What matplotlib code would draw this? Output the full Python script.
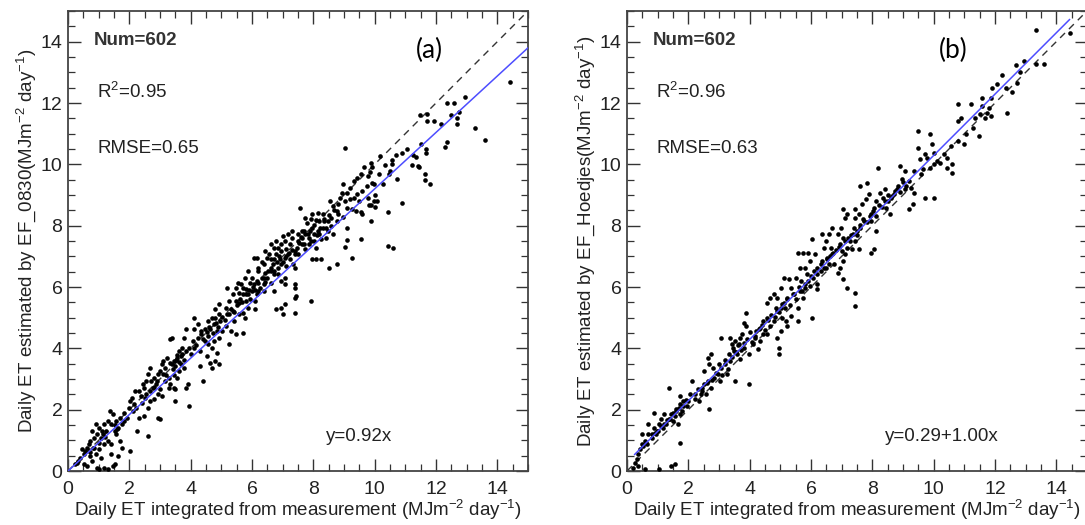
import matplotlib
matplotlib.use("Agg")
import matplotlib.pyplot as plt
from matplotlib.ticker import MultipleLocator
import numpy as np

plt.rcParams["font.family"] = ["Liberation Sans", "DejaVu Sans"]
plt.rcParams["mathtext.fontset"] = "custom"
plt.rcParams["mathtext.rm"] = "Liberation Sans"
plt.rcParams["mathtext.it"] = "Liberation Sans:italic"
plt.rcParams["mathtext.default"] = "regular"

points_a = [
    (14.4, 12.7), (13.28, 11.2), (13.6, 10.8), (12.96, 12.2), (12.6, 12.0), (12.35, 12.0),
    (12.5, 11.6), (12.7, 11.5), (12.7, 11.3), (12.75, 11.7), (12.37, 10.74), (12.3, 10.58),
    (12.15, 11.33), (11.93, 11.4), (11.7, 11.65), (11.47, 11.6), (11.7, 11.4), (11.8, 9.35),
    (11.64, 9.5), (11.64, 9.67), (11.66, 10.38), (11.66, 10.5), (11.5, 10.65), (11.4, 9.95),
    (11.45, 9.9), (11.36, 10.24), (11.24, 10.3), (11.22, 9.97), (11.07, 10.5), (10.9, 10.38),
    (10.9, 8.75), (10.73, 9.53), (10.68, 10.3), (10.56, 10.13), (10.56, 10.0), (10.5, 9.78),
    (10.34, 9.97), (10.28, 9.37), (10.13, 9.67), (10.47, 9.67), (10.45, 8.45), (10.45, 7.34),
    (10.6, 7.26), (10.17, 10.27), (9.89, 10.05), (9.91, 9.9), (9.86, 9.76), (9.77, 9.62),
    (10.0, 9.0), (10.09, 8.8), (9.98, 8.8), (9.89, 8.67), (9.89, 8.15), (10.0, 8.6),
    (9.77, 8.9), (9.8, 8.67), (9.98, 9.35), (9.91, 9.4), (9.66, 9.9), (9.55, 9.67),
    (9.76, 9.3), (9.6, 9.13), (9.02, 10.54), (9.44, 9.57), (9.32, 9.46), (9.2, 9.24),
    (9.1, 9.08), (9.32, 8.9), (9.5, 8.8), (9.26, 8.53), (9.38, 8.48), (9.55, 8.45),
    (9.6, 8.37), (8.98, 9.37), (8.93, 9.08), (8.87, 8.9), (9.1, 8.58), (8.98, 8.28),
    (9.1, 7.93), (9.1, 7.52), (9.04, 7.3), (9.55, 7.55), (9.26, 6.96), (8.76, 6.74),
    (8.53, 8.8), (8.64, 8.64), (8.76, 8.48), (8.59, 8.26), (8.47, 8.15), (8.42, 7.93),
    (8.3, 8.37), (8.36, 8.15), (8.5, 6.63), (7.97, 6.9), (8.08, 6.9), (8.25, 6.92),
    (8.19, 7.72), (8.25, 7.55), (8.02, 7.72), (8.02, 7.5), (7.85, 7.39), (8.08, 7.28),
    (7.97, 7.93), (7.8, 8.1), (8.08, 8.17), (8.14, 8.42), (7.57, 8.59), (7.68, 7.83),
    (7.74, 7.72), (7.63, 7.61), (7.51, 7.5), (7.46, 7.28), (7.4, 7.17), (7.49, 7.07),
    (7.91, 5.54), (7.4, 7.07), (7.34, 6.74), (7.4, 6.63), (7.4, 6.09), (7.4, 5.98),
    (7.43, 5.7), (7.4, 5.65), (7.4, 5.16), (7.06, 5.43), (6.95, 5.33), (6.78, 5.27),
    (7.0, 5.11), (7.06, 6.09), (7.06, 6.3), (6.95, 6.2), (7.17, 7.72), (7.06, 7.5),
    (6.95, 7.39), (6.84, 7.28), (6.78, 7.07), (6.72, 6.9), (6.67, 6.74), (6.61, 6.52),
    (6.84, 6.63), (6.95, 6.74), (7.06, 6.96), (7.17, 7.07), (6.89, 7.01), (7.12, 7.23),
    (6.55, 7.07), (6.5, 6.96), (6.39, 6.74), (6.5, 6.3), (6.61, 6.14), (6.72, 5.87),
    (6.39, 6.3), (6.21, 6.52), (6.16, 6.96), (6.05, 6.96), (6.21, 6.63), (5.93, 6.14),
    (6.05, 6.09), (5.88, 5.76), (5.71, 5.98), (5.82, 5.54), (6.1, 5.54), (5.88, 5.33),
    (5.71, 5.16), (5.59, 5.11), (5.76, 5.0), (5.71, 4.51), (6.1, 5.27), (5.48, 5.98),
    (5.37, 5.76), (5.25, 5.54), (5.14, 5.33), (5.2, 5.98), (5.48, 5.54), (5.59, 5.82),
    (5.59, 5.49), (5.37, 5.22), (5.25, 5.11), (5.42, 4.89), (5.31, 4.57), (5.48, 4.46),
    (5.14, 4.73), (5.03, 4.57), (5.25, 4.13), (4.92, 5.43), (4.8, 5.27), (4.69, 5.0),
    (4.58, 4.89), (4.8, 5.0), (4.92, 5.11), (4.97, 4.89), (4.75, 4.78), (4.63, 4.62),
    (4.86, 4.57), (4.92, 4.35), (4.75, 4.24), (4.86, 3.86), (4.92, 3.48), (4.69, 4.02),
    (4.58, 4.4), (4.46, 4.24), (4.35, 4.46), (4.46, 4.62), (4.58, 4.13), (4.52, 3.75),
    (4.63, 3.53), (4.69, 3.37), (4.8, 3.59), (4.12, 5.0), (4.24, 4.78), (4.35, 4.57),
    (4.24, 4.35), (4.07, 4.24), (3.95, 4.02), (4.12, 4.02), (4.29, 3.91), (4.29, 3.42),
    (4.41, 2.93), (4.01, 3.8), (3.95, 2.12), (3.84, 4.62), (3.79, 4.35), (3.73, 4.02),
    (3.62, 3.91), (3.67, 3.75), (3.56, 3.7), (3.45, 3.59), (3.39, 3.48), (3.5, 3.42),
    (3.67, 3.48), (3.79, 3.37), (3.62, 3.26), (3.9, 2.83), (3.84, 2.72), (3.56, 3.04),
    (3.39, 4.35), (3.33, 4.29), (3.45, 2.72), (3.5, 2.66), (3.28, 2.72), (3.33, 2.83),
    (3.16, 2.93), (3.5, 2.28), (3.22, 3.7), (3.11, 3.59), (3.05, 3.48), (3.16, 3.37),
    (3.0, 3.26), (2.94, 3.15), (3.11, 3.15), (2.82, 3.04), (2.71, 2.93), (2.88, 2.83),
    (3.0, 2.66), (2.77, 2.72), (2.94, 2.5), (3.05, 2.45), (2.82, 2.34), (2.94, 1.74),
    (3.0, 1.68), (2.66, 3.37), (2.6, 3.15), (2.54, 2.93), (2.43, 2.83), (2.49, 2.72),
    (2.32, 2.61), (2.37, 2.45), (2.54, 2.5), (2.66, 2.28), (2.6, 2.07), (2.49, 1.79),
    (2.32, 1.74), (2.6, 1.14), (2.2, 2.61), (2.09, 2.39), (2.15, 2.17), (2.03, 2.28),
    (1.98, 2.07), (1.92, 1.74), (2.26, 1.3), (2.03, 0.65), (1.81, 1.9), (1.69, 1.74),
    (1.75, 1.52), (1.64, 1.41), (1.58, 1.63), (1.47, 1.85), (1.36, 1.96), (1.41, 1.52),
    (1.53, 1.3), (1.58, 1.2), (1.69, 0.98), (1.75, 0.76), (1.64, 0.49), (1.3, 1.63),
    (1.19, 1.52), (1.24, 1.3), (1.13, 1.2), (1.3, 0.98), (1.41, 0.87), (1.02, 1.41),
    (0.96, 1.2), (0.9, 1.52), (1.07, 1.09), (1.19, 0.87), (1.02, 0.71), (0.85, 1.09),
    (0.79, 1.3), (0.73, 0.98), (0.68, 0.87), (0.62, 0.76), (0.56, 0.65), (0.51, 0.54),
    (0.45, 0.71), (0.4, 0.43), (0.34, 0.33), (0.28, 0.27), (0.51, 0.22), (0.73, 0.49),
    (0.85, 0.76), (0.9, 0.54), (1.07, 0.43), (0.79, 0.33), (0.62, 0.16), (0.96, 0.11),
    (1.19, 0.11), (1.3, 0.05), (1.47, 0.16), (1.53, 0.22), (1.02, 0.05), (1.41, 0.54),
    (0.23, 0.22), (6.16, 6.2), (6.27, 5.98), (5.99, 6.3), (6.39, 6.09), (6.44, 6.47),
    (6.33, 6.8), (5.88, 6.52), (5.76, 6.3), (5.65, 6.09), (5.54, 6.14), (5.82, 5.93),
    (5.99, 5.87), (6.16, 5.76), (5.71, 5.76), (5.93, 5.6), (6.21, 5.87), (6.39, 5.87),
    (6.95, 7.17), (7.23, 7.39), (7.29, 7.61), (6.72, 7.28), (6.61, 7.39), (6.78, 7.5),
    (7.0, 7.66), (7.29, 7.83), (7.51, 7.72), (7.63, 7.83), (7.23, 6.9), (7.12, 6.68),
    (6.84, 6.41), (6.72, 6.52), (6.44, 7.17), (6.61, 6.9), (7.74, 8.26), (7.91, 8.21),
    (7.97, 8.37), (8.19, 8.15), (8.3, 7.93), (8.47, 7.83), (8.59, 7.99), (8.64, 7.72),
    (8.76, 8.15), (8.81, 8.37), (8.42, 7.61), (7.85, 7.61), (7.63, 7.39), (7.74, 7.23),
    (7.91, 7.5), (8.14, 7.83),
    (3.31, 3.52), (3.42, 3.31), (3.52, 3.63), (3.57, 3.77), (3.61, 3.55), (3.71, 3.83),
    (3.77, 3.62), (3.86, 3.91), (3.46, 3.14), (3.29, 3.02), (3.21, 3.12), (2.91, 2.92),
    (2.81, 2.74), (2.69, 2.61), (2.52, 2.38), (2.41, 2.22), (2.21, 2.04), (2.12, 1.96),
    (4.11, 4.63), (4.19, 4.12), (4.41, 4.31), (4.52, 4.52), (4.61, 4.71), (4.72, 4.49),
    (4.81, 4.82), (4.9, 4.68), (5.01, 5.02), (5.11, 4.91), (5.19, 5.12), (5.31, 5.29),
    (5.42, 5.18), (5.52, 5.41), (5.61, 5.62), (5.69, 5.52), (5.81, 5.77), (5.9, 5.91),
    (6.02, 6.01), (6.11, 5.89), (6.21, 6.12), (6.31, 6.29), (6.42, 6.16), (6.52, 6.51),
    (6.61, 6.62), (6.71, 6.44), (6.81, 6.83), (6.9, 6.91), (7.01, 6.82), (7.11, 7.02),
    (7.21, 7.12), (7.31, 7.21), (7.52, 7.42), (7.61, 7.63), (7.71, 7.41), (7.82, 7.72),
    (7.9, 7.81), (8.01, 8.02), (8.11, 7.71), (8.22, 7.92), (8.35, 8.21), (8.52, 8.36),
    (8.69, 8.52), (8.81, 8.71), (9.02, 8.81), (9.21, 8.86), (9.41, 9.02), (1.11, 1.31),
    (1.21, 1.12), (1.01, 0.92), (0.81, 0.74), (0.71, 0.61), (1.52, 1.49), (1.61, 1.36),
    (1.81, 1.62),
]

# panel (b): measured vs EF_Hoedjes estimate
points_b = [
    (13.33, 14.38), (14.43, 14.27), (13.61, 13.28), (13.33, 13.26), (12.96, 13.37), (12.68, 13.24),
    (12.8, 13.02), (12.71, 12.66), (12.54, 12.37), (12.39, 11.68), (12.37, 12.48), (12.23, 12.91),
    (12.08, 12.61), (11.91, 12.48), (11.86, 12.17), (11.8, 11.85), (11.74, 11.68), (11.69, 11.52),
    (11.86, 11.57), (11.57, 11.9), (11.57, 12.17), (11.51, 11.63), (11.23, 11.96), (11.34, 11.52),
    (11.29, 11.2), (11.48, 10.92), (10.78, 11.96), (10.9, 11.52), (10.78, 11.41), (11.06, 10.98),
    (11.0, 10.65), (10.78, 10.76), (9.48, 11.09), (9.88, 10.98), (9.93, 10.65), (10.0, 10.38),
    (9.78, 10.22), (9.54, 10.16), (9.48, 10.54), (9.71, 10.33), (10.0, 10.0), (9.88, 9.89),
    (10.1, 10.11), (10.33, 10.33), (10.44, 10.22), (10.56, 10.6), (10.61, 10.0), (10.61, 9.73),
    (10.44, 9.89), (10.22, 10.05), (9.65, 9.84), (10.0, 8.91), (9.71, 8.91), (9.59, 9.67),
    (9.37, 9.78), (8.18, 9.89), (8.91, 9.95), (9.08, 9.78), (8.97, 9.51), (9.2, 9.46),
    (9.25, 9.24), (9.08, 9.18), (9.37, 9.08), (9.2, 8.53), (9.31, 8.7), (8.85, 9.29),
    (8.74, 9.13), (8.63, 8.97), (8.52, 8.8), (8.46, 8.59), (8.57, 8.37), (8.4, 9.18),
    (8.35, 8.91), (8.24, 9.08), (8.12, 8.8), (8.06, 8.59), (7.95, 8.37), (7.9, 9.02),
    (7.78, 8.86), (7.84, 9.4), (7.61, 9.29), (7.67, 8.7), (7.95, 8.15), (8.12, 7.83),
    (8.04, 7.23), (7.95, 7.12), (7.72, 8.15), (7.55, 8.37), (7.61, 7.93), (7.44, 8.53),
    (7.44, 8.26), (7.5, 7.83), (7.38, 7.72), (7.27, 7.5), (7.16, 7.28), (7.33, 7.23),
    (7.55, 7.23), (7.44, 7.5), (7.04, 8.53), (7.1, 8.26), (7.16, 8.37), (6.99, 7.93),
    (6.87, 7.72), (7.04, 7.61), (6.93, 7.39), (7.1, 7.07), (7.04, 6.85), (6.93, 6.63),
    (6.87, 6.47), (7.04, 6.25), (7.16, 5.98), (7.44, 5.82), (7.44, 5.38), (6.68, 7.93),
    (6.59, 7.72), (6.48, 7.5), (6.36, 7.72), (6.42, 7.28), (6.65, 7.28), (6.68, 7.07),
    (6.51, 6.96), (6.36, 6.85), (6.19, 6.63), (6.31, 6.52), (6.48, 6.63), (6.59, 6.74),
    (6.74, 6.74), (6.02, 7.55), (6.14, 7.07), (5.97, 6.85), (5.8, 6.63), (5.86, 6.41),
    (6.08, 6.3), (6.19, 5.93), (6.19, 6.09), (5.97, 6.03), (6.02, 5.0), (5.69, 6.2),
    (5.57, 7.12), (5.74, 7.12), (5.91, 7.12), (5.63, 6.63), (5.52, 6.3), (5.63, 5.87),
    (5.74, 5.65), (5.8, 5.98), (5.57, 5.33), (5.57, 4.89), (5.01, 5.98), (5.12, 6.3),
    (5.29, 6.25), (5.35, 5.98), (5.46, 5.76), (5.23, 5.65), (5.12, 5.49), (5.01, 5.33),
    (4.89, 5.65), (4.78, 5.76), (4.67, 5.65), (4.55, 5.49), (4.89, 5.22), (5.06, 5.0),
    (5.18, 4.89), (5.35, 5.05), (5.23, 4.73), (5.01, 4.57), (4.89, 4.35), (4.95, 4.02),
    (4.95, 3.8), (4.78, 4.89), (4.67, 4.73), (4.55, 5.0), (4.44, 4.89), (4.33, 4.67),
    (4.44, 4.46), (4.55, 4.46), (4.21, 4.57), (4.16, 4.35), (4.33, 4.24), (4.27, 3.97),
    (4.1, 4.13), (3.99, 3.8), (3.99, 2.83), (3.87, 5.16), (3.82, 4.84), (3.87, 4.73),
    (3.76, 4.46), (3.7, 4.35), (3.65, 4.13), (3.82, 4.02), (3.53, 4.24), (3.42, 4.13),
    (3.36, 4.35), (3.48, 3.91), (3.31, 3.8), (3.59, 3.8), (3.7, 3.64), (3.36, 3.59),
    (3.19, 3.48), (3.08, 4.35), (3.25, 3.15), (3.53, 2.93), (3.08, 3.37), (2.97, 3.15),
    (2.85, 3.04), (3.03, 2.93), (2.74, 3.8), (2.63, 3.7), (2.68, 3.48), (2.8, 3.37),
    (2.63, 2.93), (2.51, 2.83), (2.46, 2.72), (2.74, 2.72), (2.57, 2.5), (2.4, 2.5),
    (2.34, 2.28), (2.51, 3.26), (2.68, 2.01), (2.23, 2.34), (2.12, 2.93), (2.06, 2.5),
    (2.0, 2.28), (1.95, 2.12), (1.83, 2.28), (1.78, 1.96), (1.72, 2.17), (1.72, 2.45),
    (1.61, 1.96), (1.55, 1.79), (1.44, 1.85), (1.38, 2.72), (1.49, 1.63), (1.38, 1.68),
    (1.27, 1.52), (1.21, 1.85), (1.1, 1.68), (1.16, 1.41), (1.04, 1.52), (0.99, 1.3),
    (0.87, 1.41), (0.93, 1.2), (0.82, 1.09), (0.7, 1.2), (0.59, 0.98), (0.7, 1.52),
    (0.65, 0.87), (0.48, 0.87), (0.42, 0.71), (0.36, 0.54), (0.31, 0.38), (0.25, 0.27),
    (0.36, 0.16), (0.59, 0.05), (1.04, 0.05), (1.44, 0.16), (1.55, 0.22), (1.72, 0.92),
    (1.72, 1.85), (1.66, 1.52), (0.48, 1.2), (0.87, 1.9), (0.19, 0.11),
    (2.21, 2.52), (2.31, 2.68), (2.44, 2.61), (2.61, 2.86), (2.76, 2.98), (2.91, 3.21),
    (3.01, 3.48), (3.11, 3.12), (3.21, 3.62), (3.29, 3.31), (3.41, 3.71), (3.46, 4.02),
    (3.56, 3.88), (3.61, 4.11), (3.71, 3.96), (3.81, 4.19), (3.91, 4.31), (4.01, 4.52),
    (4.06, 4.21), (4.19, 4.41), (4.31, 4.62), (4.41, 4.76), (4.49, 4.61), (4.61, 4.91),
    (4.71, 5.09), (4.81, 5.01), (4.86, 5.31), (4.96, 5.19), (5.06, 5.46), (5.16, 5.31),
    (5.21, 5.61), (5.31, 5.41), (5.41, 5.76), (5.51, 5.61), (5.61, 6.01), (5.71, 5.86),
    (5.81, 6.11), (5.91, 6.19), (6.01, 6.36), (6.11, 6.51), (6.21, 6.41), (6.31, 6.76),
    (6.41, 6.61), (6.51, 6.91), (6.61, 7.01), (6.71, 7.11), (6.81, 7.21), (6.91, 7.31),
    (7.01, 7.19), (7.11, 7.51), (7.21, 7.61), (7.31, 7.69), (7.41, 7.91), (7.51, 7.71),
    (7.61, 8.01), (7.71, 8.21), (7.81, 8.11), (7.91, 8.31), (8.01, 8.49), (8.11, 8.31),
    (8.21, 8.69), (8.31, 8.61), (8.41, 8.79), (8.51, 9.01), (8.61, 8.89), (8.71, 9.02),
    (8.81, 9.21), (8.91, 9.09), (9.01, 9.41), (9.11, 9.29), (1.01, 1.31), (1.11, 1.46),
    (1.21, 1.54), (1.31, 1.66), (1.41, 1.71), (1.51, 1.89), (1.61, 2.01), (1.71, 2.06),
    (1.81, 2.11), (1.91, 2.31), (0.81, 1.21), (0.91, 1.24), (0.61, 0.91), (0.51, 0.81),
]

panel_tags = ["(a)", "(b)"]
y_labels = [
    r"Daily ET estimated by EF_0830(MJm$^{-2}$ day$^{-1}$)",
    r"Daily ET estimated by EF_Hoedjes(MJm$^{-2}$ day$^{-1}$)",
]
num_text = ["Num=602", "Num=602"]
r2_text = [r"R$^2$=0.95", r"R$^2$=0.96"]
rmse_text = ["RMSE=0.65", "RMSE=0.63"]
eq_text = ["y=0.92x", "y=0.29+1.00x"]
fit_intercept = [0.0, 0.29]
fit_slope = [0.92, 1.00]
fit_range = [(0.0, 15.0), (0.25, 14.43)]
x_label = r"Daily ET integrated from measurement (MJm$^{-2}$ day$^{-1}$)"

W, H = 1085, 525
fig = plt.figure(figsize=(W / 100, H / 100), dpi=100)
lefts = [68, 627]
axes = [fig.add_axes([l / W, 54 / H, 460 / W, 460 / H]) for l in lefts]

text_color = "#222222"
for i, ax in enumerate(axes):
    pts = np.array([points_a, points_b][i])
    ax.scatter(pts[:, 0], pts[:, 1], s=11, color="black", linewidths=0, zorder=3)
    ax.plot([0, 15], [0, 15], ls=(0, (5, 4)), color="#333333", lw=1.0, zorder=2)
    x0, x1 = fit_range[i]
    ax.plot([x0, x1], [fit_intercept[i] + fit_slope[i] * x0, fit_intercept[i] + fit_slope[i] * x1],
            color="#4d4dff", lw=1.1, zorder=4)

    ax.set_xlim(0, 15)
    ax.set_ylim(0, 15)
    ax.xaxis.set_major_locator(MultipleLocator(2))
    ax.yaxis.set_major_locator(MultipleLocator(2))
    ax.xaxis.set_minor_locator(MultipleLocator(0.5))
    ax.yaxis.set_minor_locator(MultipleLocator(0.5))
    ax.tick_params(which="both", direction="in", top=True, right=True, colors="#333333",
                   labelcolor=text_color, labelsize=14)
    ax.tick_params(which="major", length=9, width=1.0)
    ax.tick_params(which="minor", length=5, width=0.9)
    ax.tick_params(axis="x", pad=7)
    ax.tick_params(axis="y", pad=4)
    for sp in ax.spines.values():
        sp.set_linewidth(1.3)
        sp.set_color("#444444")

    ax.set_xlabel(x_label, fontsize=13.5, color=text_color, labelpad=0)
    ax.set_ylabel(y_labels[i], fontsize=13.5, color=text_color, labelpad=2)

    ax.text(0.85, 14.05, num_text[i], fontsize=13.5, fontweight="bold", color="#333333",
            va="center", ha="left")
    ax.text(0.95, 12.36, r2_text[i], fontsize=13.5, color=text_color, va="center", ha="left")
    ax.text(0.95, 10.53, rmse_text[i], fontsize=13.5, color=text_color, va="center", ha="left")
    ax.text([9.5, 10.25][i], 1.12, eq_text[i], fontsize=13.5, color=text_color,
            va="center", ha="center")
    ax.text([11.8, 10.65][i], 13.7, panel_tags[i], fontsize=19, family=["Lato", "DejaVu Sans"],
            color="black", va="center", ha="center")

fig.savefig("out.png", dpi=100)
